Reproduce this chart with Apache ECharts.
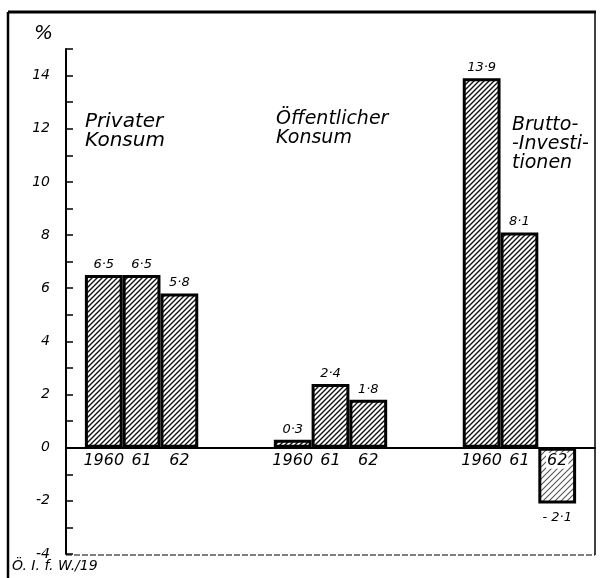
<!DOCTYPE html>
<html>
<head>
<meta charset="utf-8">
<script src="https://cdn.jsdelivr.net/npm/echarts@6/dist/echarts.min.js"></script>
<style>
  html, body { margin: 0; padding: 0; background: #fff; }
  #main { width: 605px; height: 578px; }
</style>
</head>
<body>
<div id="main"></div>
<script>
var groupNames = ['Privater\nKonsum', 'Öffentlicher\nKonsum', 'Brutto-\n-Investi-\ntionen'];
var years = ['1960', '61', '62'];
var privaterKonsum = [6.5, 6.5, 5.8];
var oeffentlicherKonsum = [0.3, 2.4, 1.8];
var bruttoInvestitionen = [13.9, 8.1, -2.1];
var yMin = -4, yMax = 15;

var font = 'DejaVu Sans';
var gridTop = 49, gridBottom = 24, chartH = 578;

// hatch fill like the printed chart
function hatch(color, step, width) {
    var c = document.createElement('canvas');
    c.width = step; c.height = step;
    var ctx = c.getContext('2d');
    ctx.strokeStyle = color;
    ctx.lineWidth = width;
    ctx.beginPath();
    ctx.moveTo(-1, step + 1); ctx.lineTo(step + 1, -1);
    ctx.moveTo(-1, 1); ctx.lineTo(1, -1);
    ctx.moveTo(step - 1, step + 1); ctx.lineTo(step + 1, step - 1);
    ctx.stroke();
    return { image: c, repeat: 'repeat' };
}
var hatchDark = hatch('#111', 5, 1.4);
var hatchLight = hatch('#555', 6, 1.1);

function fmt(v) {
    var s = Math.abs(v).toFixed(1).replace('.', '·');
    return v < 0 ? '- ' + s : s;
}

// build slots: blank, 3 bars, 2 blanks, 3 bars, 2 blanks, 3 bars, blank
var categories = [''];
var values = ['-'];
[privaterKonsum, oeffentlicherKonsum, bruttoInvestitionen].forEach(function (g, i) {
    if (i > 0) { categories.push('', ''); values.push('-', '-'); }
    g.forEach(function (v, j) {
        categories.push(years[j]);
        var item = { value: v };
        if (v < 0) {
            item.itemStyle = { color: hatchLight };
            item.label = { position: 'bottom', distance: 8 };
        }
        values.push(item);
    });
});
categories.push('');
values.push('-');

// lift the category axis up to the zero line
var plotH = chartH - gridTop - gridBottom;
var zeroOffset = -plotH * (0 - yMin) / (yMax - yMin);

var myChart = echarts.init(document.getElementById('main'));
myChart.setOption({
    animation: false,
    backgroundColor: '#fff',
    grid: { left: 66, right: 10, top: gridTop, bottom: gridBottom, containLabel: false, outerBoundsMode: 'none' },
    xAxis: {
        type: 'category',
        data: categories,
        boundaryGap: false,
        z: 5,
        offset: zeroOffset,
        axisLine: { show: true, onZero: false, lineStyle: { color: '#000', width: 2 } },
        axisTick: { show: false },
        axisLabel: {
            interval: 0,
            margin: 5,
            color: '#000',
            fontFamily: font,
            fontStyle: 'italic',
            fontSize: 16,
            backgroundColor: '#fff',
            padding: [0, 1]
        },
        splitLine: { show: false }
    },
    yAxis: {
        type: 'value',
        min: yMin,
        max: yMax,
        interval: 1,
        axisLine: { show: true, lineStyle: { color: '#000', width: 2 } },
        axisTick: { show: true, inside: true, length: 7, lineStyle: { color: '#000', width: 1.5 } },
        axisLabel: {
            margin: 16,
            color: '#000',
            fontFamily: font,
            fontStyle: 'italic',
            fontSize: 14,
            formatter: function (v) { return v % 2 === 0 ? String(v) : ''; }
        },
        splitLine: { show: false }
    },
    series: [{
        type: 'bar',
        data: values,
        barCategoryGap: '0%',
        itemStyle: { color: hatchDark, borderColor: '#000', borderWidth: 3 },
        label: {
            show: true,
            position: 'top',
            distance: 4,
            color: '#000',
            fontFamily: font,
            fontStyle: 'italic',
            fontSize: 13,
            formatter: function (p) { return fmt(p.value); }
        }
    }],
    graphic: [
        { type: 'line', shape: { x1: 8, y1: 12, x2: 596, y2: 12 }, style: { stroke: '#000', lineWidth: 3 } },
        { type: 'line', shape: { x1: 8, y1: 12, x2: 8, y2: 578 }, style: { stroke: '#000', lineWidth: 2.5 } },
        { type: 'line', shape: { x1: 595, y1: 12, x2: 595, y2: 555 }, style: { stroke: '#000', lineWidth: 1.5 } },
        { type: 'line', shape: { x1: 66, y1: 555, x2: 595, y2: 555 }, style: { stroke: '#000', lineWidth: 1.2, lineDash: [6, 2] } },
        { type: 'text', left: 34, top: 24, style: { text: '%', font: 'italic 20px "DejaVu Sans"', fill: '#000' } },
        { type: 'text', left: 85, top: 112, style: { text: groupNames[0], font: 'italic 20px "DejaVu Sans"', lineHeight: 19, fill: '#000' } },
        { type: 'text', left: 276, top: 110, style: { text: groupNames[1], font: 'italic 19px "DejaVu Sans"', lineHeight: 19, fill: '#000' } },
        { type: 'text', left: 512, top: 116, style: { text: groupNames[2], font: 'italic 19px "DejaVu Sans"', lineHeight: 19, fill: '#000' } },
        { type: 'text', left: 12, top: 559, style: { text: 'Ö. I. f. W./19', font: 'italic 14px "DejaVu Sans"', fill: '#000' } }
    ]
});
</script>
</body>
</html>
